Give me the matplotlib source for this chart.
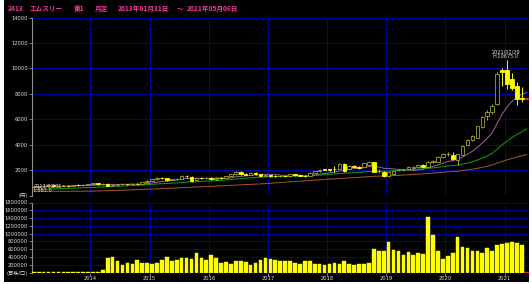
import matplotlib
matplotlib.use("Agg")
import matplotlib.pyplot as plt
from matplotlib.patches import Rectangle
import numpy as np
import pandas as pd

plt.rcParams['font.family'] = ['DejaVu Sans', 'Noto Sans CJK JP']

# ---------------- data ----------------
start_month = "2013-01"
end_month = "2021-05"

opens = [640, 700, 740, 760, 820, 760, 780, 760, 730, 840, 800, 860,
         880, 950, 880, 940, 780, 860, 880, 900, 880, 940, 920, 1060,
         1150, 1280, 1400, 1340, 1200, 1280, 1300, 1520, 1480, 1200, 1380, 1350,
         1400, 1320, 1380, 1360, 1520, 1680, 1880, 1720, 1620, 1790, 1680, 1560,
         1580, 1540, 1500, 1520, 1500, 1660, 1600, 1560, 1560, 1780, 1900, 2060,
         2050, 2100, 2100, 2500, 2050, 2340, 2260, 2210, 2420, 2600, 1940, 1870,
         1560, 1660, 1980, 2000, 2050, 2140, 2210, 2390, 2260, 2600, 2650, 3000,
         3250, 3180, 2780, 3180, 3960, 4400, 4560, 5400, 6230, 6570, 7230, 9900,
         9900, 9190, 8590, 7670, 7600]
highs = [720, 780, 820, 860, 900, 820, 830, 800, 860, 900, 880, 920,
         990, 1000, 960, 960, 880, 920, 930, 940, 960, 1000, 1080, 1200,
         1300, 1420, 1430, 1380, 1320, 1350, 1580, 1620, 1500, 1420, 1440, 1420,
         1480, 1420, 1450, 1560, 1720, 1900, 1940, 1760, 1820, 1830, 1720, 1640,
         1650, 1620, 1600, 1560, 1700, 1700, 1680, 1600, 1830, 1940, 2060, 2120,
         2120, 2340, 2560, 2540, 2380, 2420, 2320, 2580, 2700, 2640, 2080, 1920,
         1900, 1960, 2080, 2100, 2300, 2320, 2420, 2450, 2700, 2760, 3080, 3350,
         3450, 3400, 3300, 3950, 4450, 4750, 5500, 6250, 6700, 7200, 9700, 10050,
         10675, 9630, 8930, 8530, 7700]
lows = [581, 660, 690, 720, 700, 690, 720, 700, 720, 780, 770, 820,
        840, 850, 820, 760, 750, 830, 840, 850, 860, 880, 900, 1040,
        1120, 1250, 1300, 1150, 1180, 1220, 1280, 1380, 1100, 1150, 1300, 1320,
        1250, 1200, 1300, 1340, 1500, 1640, 1640, 1580, 1600, 1640, 1500, 1500,
        1480, 1460, 1450, 1420, 1480, 1560, 1520, 1460, 1540, 1740, 1860, 1980,
        1960, 1870, 2060, 1860, 2000, 2180, 2120, 2180, 2380, 1820, 1760, 1480,
        1480, 1640, 1900, 1920, 2000, 2080, 2180, 2230, 2200, 2540, 2620, 2960,
        3100, 2800, 2380, 3100, 3900, 4300, 4500, 5300, 5900, 6400, 7100, 8600,
        8400, 8270, 7100, 7360, 7550]
closes = [700, 740, 760, 820, 760, 780, 760, 730, 840, 800, 860, 880,
          950, 880, 930, 780, 860, 880, 900, 880, 940, 920, 1060, 1150,
          1280, 1400, 1340, 1200, 1280, 1300, 1540, 1500, 1160, 1380, 1350, 1380,
          1320, 1380, 1360, 1520, 1700, 1860, 1680, 1620, 1790, 1660, 1540, 1580,
          1540, 1500, 1520, 1500, 1660, 1600, 1560, 1520, 1800, 1920, 2000, 2020,
          2000, 2080, 2500, 1900, 2340, 2240, 2180, 2550, 2650, 1870, 1960, 1530,
          1870, 1920, 2000, 2020, 2260, 2250, 2390, 2260, 2650, 2700, 3040, 3300,
          3260, 2840, 3250, 3900, 4400, 4670, 5450, 6180, 6570, 7075, 9580, 9710,
          8800, 8490, 7620, 7600, 7670]
volumes = [18000, 20000, 22000, 19000, 21000, 20000, 18000, 19000, 22000, 20000, 21000, 19000,
           20000, 22000, 59000, 385000, 400000, 298000, 188000, 257000, 213000, 316000, 239000, 239000,
           223000, 252000, 316000, 400000, 298000, 316000, 375000, 368000, 342000, 496000, 385000, 334000,
           462000, 368000, 247000, 265000, 231000, 290000, 290000, 265000, 188000, 257000, 316000, 385000,
           350000, 316000, 290000, 308000, 290000, 247000, 213000, 290000, 290000, 231000, 231000, 196000,
           231000, 239000, 215000, 305000, 210000, 183000, 225000, 231000, 239000, 616000, 556000, 565000,
           788000, 590000, 556000, 445000, 530000, 445000, 496000, 470000, 1439000, 967000, 565000, 342000,
           428000, 513000, 916000, 668000, 625000, 556000, 548000, 513000, 642000, 565000, 719000, 745000,
           753000, 779000, 770000, 702000, 20000]

# moving-average windows (months) and the values shown before each window is full
ma_windows = [9, 24, 60]
ma_short_head = [690, 698, 706, 714, 722, 730, 738, 746]
ma_mid_head = [460, 475, 490, 505, 520, 535, 550, 565, 580, 595, 610, 625,
               640, 655, 672, 690, 708, 726, 744, 762, 780, 800, 820]
ma_long_head = [350, 345, 340, 338, 335, 333, 332, 332, 333, 335, 338, 342,
                350, 360, 370, 380, 392, 405, 418, 432, 446, 460, 475, 490,
                505, 522, 540, 558, 576, 594, 612, 632, 650, 668, 686, 704,
                722, 740, 760, 780, 800, 820, 840, 858, 876, 894, 912, 930,
                960, 990, 1020, 1050, 1080, 1105, 1130, 1155, 1180, 1205, 1230]

price_ticks = [0, 2000, 4000, 6000, 8000, 10000, 12000, 14000]
price_tick_labels = ['(円)', '2000', '4000', '6000', '8000', '10000', '12000', '14000']
volume_ticks = [0, 200000, 400000, 600000, 800000, 1000000, 1200000, 1400000, 1600000, 1800000]
volume_tick_labels = ['(百株/口)', '200000', '400000', '600000', '800000', '1000000',
                      '1200000', '1400000', '1600000', '1800000']

title_parts = ["2413", "エムスリー", "東1", "月足", "2013年01月31日", "～", "2021年05月06日"]
title_x_px = [7.3, 29.3, 74, 95, 117.3, 177, 187]
high_date = "2021/01/29"
low_date = "2013/01/31"

# ---------------- styles ----------------
BG = 'black'
GRID = '#00009a'
SPINE = '#8c8c8c'
TXT = '#e0e0e0'
UP = '#a4a42a'
DOWN = '#ffff00'
LAST = '#ff2020'
MA_COLORS = ['#9c64a0', '#12a012', '#a05a30']

months = pd.period_range(start_month, end_month, freq="M")
n = len(months)
xs = np.arange(n)
o = np.array(opens, float); h = np.array(highs, float)
l = np.array(lows, float); c = np.array(closes, float)
v = np.array(volumes, float)

close_s = pd.Series(c)
ma_lines = []
for w, head in zip(ma_windows, [ma_short_head, ma_mid_head, ma_long_head]):
    m = close_s.rolling(w).mean().to_numpy()
    m[:len(head)] = head
    ma_lines.append(m)

W, H = 532, 284
fig = plt.figure(figsize=(W / 100, H / 100), dpi=100, facecolor='white')
fig.add_artist(Rectangle((4 / W, 2 / H), 525 / W, 1 - 2 / H, transform=fig.transFigure,
                         facecolor=BG, edgecolor='none', zorder=-10))


def px_axes(left, top, right, bottom):
    return fig.add_axes([left / W, 1 - bottom / H, (right - left) / W, (bottom - top) / H])


ax_p = px_axes(32, 17.5, 529, 195.5)
ax_v = px_axes(32, 202.5, 529, 272.5)

year_pos = [i - 0.5 for i, m in enumerate(months) if m.month == 1 and i > 0]
year_lab = [str(months[i].year) for i, m in enumerate(months) if m.month == 1 and i > 0]

for ax in (ax_p, ax_v):
    ax.set_facecolor('none')
    ax.set_xlim(-0.36, n - 1 + 0.47)
    ax.set_xticks(year_pos)
    ax.set_axisbelow(True)
    ax.grid(True, color=GRID, linewidth=0.72, snap=True)
    for s in ('top', 'right', 'bottom'):
        ax.spines[s].set_visible(False)
    ax.spines['left'].set_color(SPINE)
    ax.spines['left'].set_linewidth(0.8)
    ax.tick_params(axis='y', length=2.2, width=0.6, color=SPINE, labelcolor=TXT,
                   labelsize=3.7, pad=0.8)

# price panel
ax_p.set_ylim(0, 14000)
ax_p.set_yticks(price_ticks)
ax_p.set_yticklabels(price_tick_labels)
ax_p.tick_params(axis='x', length=0, labelbottom=False)

for m, col in zip(ma_lines, MA_COLORS):
    ax_p.plot(xs, m, color=col, linewidth=0.7, zorder=2)

up = c >= o
is_last = xs == n - 1
edge_cols = [LAST if last else (UP if u else DOWN) for u, last in zip(up, is_last)]
face_cols = [LAST if last else (BG if u else DOWN) for u, last in zip(up, is_last)]
ax_p.vlines(xs, l, h, colors=edge_cols, linewidth=0.7, zorder=3)
body_bottom = np.minimum(o, c)
body_height = np.maximum(np.abs(c - o), 20)
ax_p.bar(xs, body_height, bottom=body_bottom, width=0.72, facecolor=face_cols,
         edgecolor=edge_cols, linewidth=0.6, zorder=4)

ih = int(np.argmax(h))
il = int(np.argmin(l))
ax_p.annotate(high_date, xy=(ih, h[ih]), xytext=(-10.7, 5.6), textcoords='offset points',
              ha='left', va='center', fontsize=3.6, color=TXT, zorder=6)
ax_p.annotate(f"H:{h[ih]:.1f}", xy=(ih, h[ih]), xytext=(-10.7, 2.7), textcoords='offset points',
              ha='left', va='center', fontsize=3.6, color=TXT, zorder=6)
ax_p.annotate(low_date, xy=(il, l[il]), xytext=(0, 1.4), textcoords='offset points',
              ha='left', va='center', fontsize=3.6, color=TXT, zorder=6)
ax_p.annotate(f"L:{l[il]:.1f}", xy=(il, l[il]), xytext=(0, -1.9), textcoords='offset points',
              ha='left', va='center', fontsize=3.6, color=TXT, zorder=6)

# volume panel
ax_v.set_ylim(0, 1800000)
ax_v.set_yticks(volume_ticks)
ax_v.set_yticklabels(volume_tick_labels)
vol_cols = [LAST if last else DOWN for last in is_last]
ax_v.bar(xs, v, width=0.74, color=vol_cols, edgecolor=vol_cols, linewidth=0.3, zorder=3)
ax_v.set_xticklabels(year_lab)
ax_v.tick_params(axis='x', length=1.8, width=0.6, color=SPINE, labelcolor=TXT,
                 labelsize=3.7, pad=1.0)

# title
for txt, xpx in zip(title_parts, title_x_px):
    fig.text(xpx / W, 1 - 8.4 / H, txt, ha='left', va='center', fontsize=4.8,
             color='#f03c9c', family=['Noto Sans CJK JP', 'DejaVu Sans'], fontweight='bold')

fig.savefig('out.png', dpi=100, facecolor=fig.get_facecolor())
